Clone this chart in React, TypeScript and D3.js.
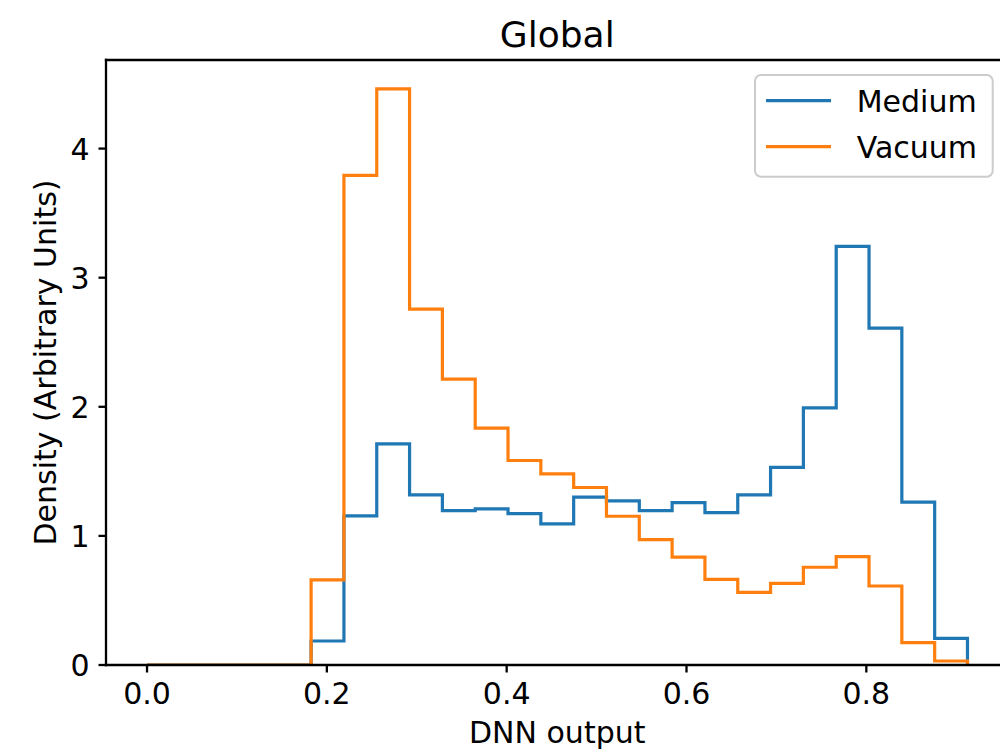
import React from "react";
import * as d3 from "d3";

const binEdges = [
  0, 0.0365, 0.073, 0.1095, 0.146, 0.1825, 0.219, 0.2555, 0.292, 0.3285, 0.365,
  0.4015, 0.438, 0.4745, 0.511, 0.5475, 0.584, 0.6205, 0.657, 0.6935, 0.73,
  0.7665, 0.803, 0.8395, 0.876, 0.9125,
];

const mediumValues = [
  0, 0, 0, 0, 0, 0.186, 1.155, 1.713, 1.318, 1.196, 1.209, 1.173, 1.093, 1.3,
  1.272, 1.195, 1.258, 1.181, 1.318, 1.531, 1.992, 3.243, 2.61, 1.261, 0.207,
];

const vacuumValues = [
  0, 0, 0, 0, 0, 0.659, 3.793, 4.463, 2.757, 2.215, 1.835, 1.584, 1.481, 1.375,
  1.152, 0.971, 0.835, 0.664, 0.563, 0.633, 0.757, 0.84, 0.612, 0.173, 0.031,
];

const seriesNames = ["Medium", "Vacuum"];
const seriesColors = ["#1f77b4", "#ff7f0e"];
const xTicks = [0, 0.2, 0.4, 0.6, 0.8];
const yTicks = [0, 1, 2, 3, 4];

const W = 1000;
const H = 754;
const left = 106;
const right = 1008.5;
const top = 60;
const bottom = 665;
const FONT = "DejaVu Sans, sans-serif";

export default function App() {
  const xMin = binEdges[0];
  const xMax = binEdges[binEdges.length - 1];
  const xPad = (xMax - xMin) * 0.05;
  const x = d3.scaleLinear().domain([xMin - xPad, xMax + xPad]).range([left, right]);
  const yMax = Math.max(d3.max(mediumValues)!, d3.max(vacuumValues)!) * 1.05;
  const y = d3.scaleLinear().domain([0, yMax]).range([bottom, top]);

  const stepPath = (vals: number[]) => {
    const pts: [number, number][] = [[binEdges[0], 0]];
    vals.forEach((v, i) => {
      pts.push([binEdges[i], v]);
      pts.push([binEdges[i + 1], v]);
    });
    pts.push([binEdges[binEdges.length - 1], 0]);
    return d3
      .line<[number, number]>()
      .x((d) => x(d[0]))
      .y((d) => y(d[1]))(pts)!;
  };

  const allSeries = [mediumValues, vacuumValues];
  const fmt = d3.format(".1f");
  const cx = (left + right) / 2;
  const cy = (top + bottom) / 2;

  return (
    <svg
      width={W}
      height={H}
      style={{ position: "absolute", left: 0, top: 0, background: "#fff" }}
      fontFamily={FONT}
    >
      <rect x={0} y={0} width={W} height={H} fill="#fff" />
      <defs>
        <clipPath id="plotclip">
          <rect x={left} y={top} width={right - left} height={bottom - top} />
        </clipPath>
      </defs>
      <g clipPath="url(#plotclip)">
        {allSeries.map((vals, i) => (
          <path
            key={i}
            d={stepPath(vals)}
            fill="none"
            stroke={seriesColors[i]}
            strokeWidth={3.2}
            strokeLinejoin="miter"
          />
        ))}
      </g>
      {/* spines */}
      <g stroke="#000" strokeWidth={2.3} fill="none" strokeLinecap="square">
        <line x1={left} y1={top} x2={left} y2={bottom} />
        <line x1={left} y1={bottom} x2={right} y2={bottom} />
        <line x1={left} y1={top} x2={right} y2={top} />
        <line x1={right} y1={top} x2={right} y2={bottom} />
      </g>
      {/* x ticks */}
      {xTicks.map((t) => (
        <g key={"x" + t}>
          <line x1={x(t)} x2={x(t)} y1={bottom} y2={bottom + 7.5} stroke="#000" strokeWidth={2.3} />
          <text x={x(t)} y={704} textAnchor="middle" fontSize={30} fill="#000">
            {fmt(t)}
          </text>
        </g>
      ))}
      {/* y ticks */}
      {yTicks.map((t) => (
        <g key={"y" + t}>
          <line x1={left - 7.5} x2={left} y1={y(t)} y2={y(t)} stroke="#000" strokeWidth={2.3} />
          <text x={89.5} y={y(t) + 11} textAnchor="end" fontSize={30} fill="#000">
            {t}
          </text>
        </g>
      ))}
      {/* labels */}
      <text x={cx} y={743} textAnchor="middle" fontSize={30} fill="#000">
        DNN output
      </text>
      <text
        transform={`translate(56,${cy}) rotate(-90)`}
        textAnchor="middle"
        fontSize={30}
        fill="#000"
      >
        Density (Arbitrary Units)
      </text>
      <text x={cx} y={47} textAnchor="middle" fontSize={36} fill="#000">
        Global
      </text>
      {/* legend */}
      <rect
        x={755}
        y={75}
        width={237.7}
        height={101.7}
        rx={6}
        ry={6}
        fill="#fff"
        fillOpacity={0.8}
        stroke="#cccccc"
        strokeWidth={2}
      />
      {seriesNames.map((name, i) => {
        const ly = 100.7 + i * 46;
        return (
          <g key={name}>
            <line x1={766} x2={831} y1={ly} y2={ly} stroke={seriesColors[i]} strokeWidth={3.2} />
            <text x={856.7} y={ly + 11.5} fontSize={30} fill="#000">
              {name}
            </text>
          </g>
        );
      })}
    </svg>
  );
}
